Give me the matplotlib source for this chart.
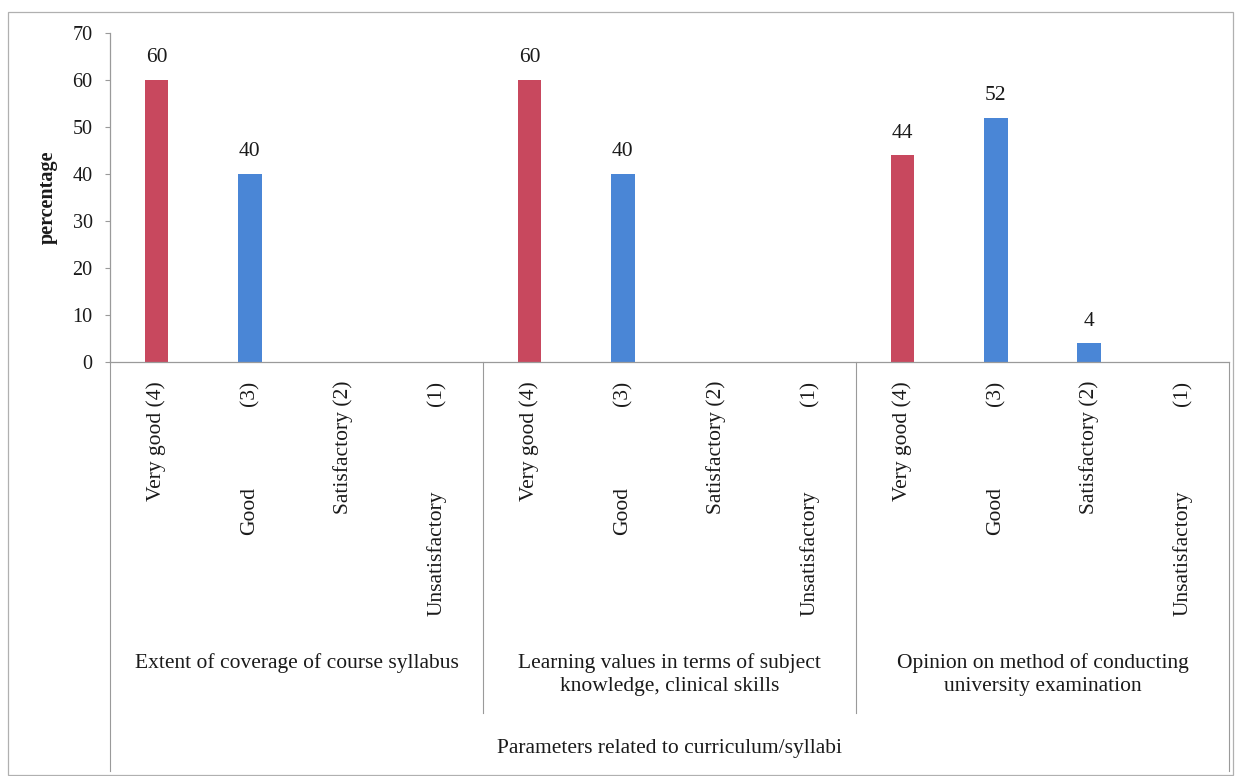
import matplotlib
matplotlib.use('Agg')
import matplotlib.pyplot as plt
import numpy as np
from matplotlib.lines import Line2D
from matplotlib.patches import Rectangle
from matplotlib.transforms import blended_transform_factory

# 数据
groups = ['Extent of coverage of course syllabus',
          'Learning values in terms of subject\nknowledge, clinical skills',
          'Opinion on method of conducting\nuniversity examination']
ratings = ['Very good', 'Good', 'Satisfactory', 'Unsatisfactory']
scores = ['(4)', '(3)', '(2)', '(1)']
values = [[60, 40, 0, 0],
          [60, 40, 0, 0],
          [44, 52, 4, 0]]
outer_label = 'Parameters related to curriculum/syllabi'
y_label = 'percentage'
y_ticks = [0, 10, 20, 30, 40, 50, 60, 70]

plt.rcParams['font.family'] = ['Liberation Serif', 'DejaVu Serif']

W, H = 1240, 776
fig = plt.figure(figsize=(W / 100, H / 100), dpi=100)


def fx(px):
    return px / W


def fy(py):
    return 1 - py / H


ax_left, ax_right, ax_top, ax_bottom = 110, 1229, 33, 362
ax = fig.add_axes([fx(ax_left), fy(ax_bottom), fx(ax_right - ax_left), (ax_bottom - ax_top) / H])

red = '#C8485E'
blue = '#4A86D6'
gray = '#9A9A9A'

n_cat = len(ratings)
flat = [v for row in values for v in row]
x = np.arange(len(flat))
colors = [red if i % n_cat == 0 else blue for i in range(len(flat))]
bars = ax.bar(x, flat, width=0.25, color=colors, zorder=2)
for b, v in zip(bars, flat):
    if v > 0:
        ax.annotate(str(v), (b.get_x() + b.get_width() / 2, v), xytext=(0, 9),
                    textcoords='offset points', ha='center', va='bottom',
                    fontsize=15.5, color='#1a1a1a')

ax.set_xlim(-0.5, len(flat) - 0.5)
ax.set_ylim(0, 70)
ax.set_yticks(y_ticks)
ax.tick_params(axis='y', length=3.6, width=0.8, color=gray, labelsize=14.5, pad=9, labelcolor='#1a1a1a')
ax.set_xticks([])
for s in ['top', 'right']:
    ax.spines[s].set_visible(False)
for s in ['left', 'bottom']:
    ax.spines[s].set_color(gray)
    ax.spines[s].set_linewidth(0.9)

fig.text(fx(48), fy(197), y_label, rotation=90, ha='center', va='center',
         fontsize=14.5, fontweight='bold', color='#1a1a1a')

# 分类标签 (竖排)
tr = blended_transform_factory(ax.transData, fig.transFigure)
word_top = {'Very good': None, 'Good': 487, 'Satisfactory': None, 'Unsatisfactory': 490}
for i in range(len(flat)):
    r = ratings[i % n_cat]
    sc = scores[i % n_cat]
    if word_top[r] is None:
        ax.text(i, fy(381), r + ' ' + sc, rotation=90, ha='center', va='top',
                transform=tr, fontsize=15.5, color='#1a1a1a')
    else:
        ax.text(i, fy(381), sc, rotation=90, ha='center', va='top',
                transform=tr, fontsize=15.5, color='#1a1a1a')
        ax.text(i, fy(word_top[r]), r, rotation=90, ha='center', va='top',
                transform=tr, fontsize=15.5, color='#1a1a1a')

# 分组线
group_w = (ax_right - ax_left) / len(groups)
for g in range(1, len(groups)):
    xp = ax_left + g * group_w
    fig.add_artist(Line2D([fx(xp), fx(xp)], [fy(ax_bottom), fy(713)], color=gray, lw=0.8))
for xp in [ax_left, ax_right]:
    fig.add_artist(Line2D([fx(xp), fx(xp)], [fy(ax_bottom), fy(771)], color=gray, lw=0.8))

for g, name in enumerate(groups):
    cx = ax_left + (g + 0.5) * group_w
    fig.text(fx(cx), fy(653), name, ha='center', va='top', fontsize=15.5,
             linespacing=1.3, multialignment='center', color='#1a1a1a')

fig.text(fx((ax_left + ax_right) / 2), fy(753), outer_label, ha='center', va='baseline',
         fontsize=15.5, color='#1a1a1a')

# 外框
fig.add_artist(Rectangle((fx(8), fy(775)), fx(1233 - 8), (775 - 12) / H,
                         fill=False, edgecolor='#B0B0B0', lw=0.9, transform=fig.transFigure))

plt.savefig('out.png', dpi=100)
